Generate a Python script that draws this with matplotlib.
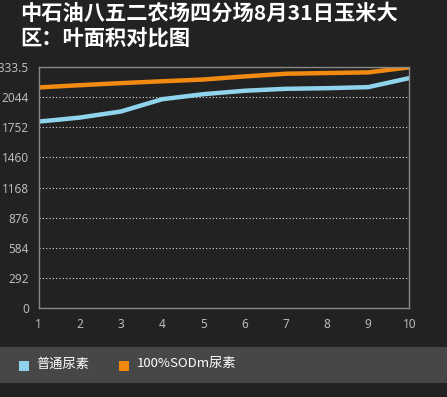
import matplotlib
matplotlib.use("Agg")
import matplotlib.pyplot as plt
from matplotlib.patches import Rectangle

plt.rcParams['font.family'] = ['Noto Sans CJK SC', 'DejaVu Sans']

# data
days = [1, 2, 3, 4, 5, 6, 7, 8, 9, 10]
normal_urea = [1807, 1846, 1905, 2024, 2073, 2106, 2125, 2131, 2141, 2229]
sodm_urea = [2138, 2160, 2180, 2198, 2215, 2245, 2271, 2278, 2284, 2333.5]
y_ticks = [0, 292, 584, 876, 1168, 1460, 1752, 2044, 2333.5]
y_labels = ['0', '292', '584', '876', '1168', '1460', '1752', '2044', '2333.5']
series_names = ['普通尿素', '100%SODm尿素']
colors = ['#8fd3ec', '#f28a12']
title = '中石油八五二农场四分场8月31日玉米大\n区：叶面积对比图'

W, H = 447, 397
bg = '#222222'
fig = plt.figure(figsize=(W / 100, H / 100), dpi=100, facecolor=bg)
ax = fig.add_axes([38.5 / W, 1 - 308 / H, (409.3 - 38.5) / W, (308 - 67.3) / H])
ax.set_facecolor(bg)

ax.plot(days, normal_urea, color=colors[0], lw=3.2, solid_joinstyle='round')
ax.plot(days, sodm_urea, color=colors[1], lw=3.2, solid_joinstyle='round')

ax.set_xlim(1, 10)
ax.set_ylim(0, 2333.5)
ax.set_xticks(days)
ax.set_xticklabels([str(d) for d in days])
ax.set_yticks(y_ticks)
ax.set_yticklabels(y_labels)
ax.tick_params(length=0, colors='#bbbbbb', labelsize=8.5)
ax.tick_params(axis='y', pad=7)
ax.tick_params(axis='x', pad=7)
for lab in ax.get_xticklabels() + ax.get_yticklabels():
    lab.set_family('Noto Sans')

for v in y_ticks[1:-1]:
    ax.axhline(v, color='#dddddd', lw=0.8, ls=(0, (1, 2)), zorder=1)

for s in ax.spines.values():
    s.set_color('#888888')
    s.set_linewidth(1)

fig.text(20 / W, 1 - 3 / H, title, color='white', fontsize=15.3, fontweight='bold',
         ha='left', va='top', linespacing=1.22)

# legend band
fig.patches.append(Rectangle((0, 1 - 383 / H), 1, 36 / H, transform=fig.transFigure,
                             facecolor='#474747', edgecolor='none', zorder=0))
sq_x = [19, 119]
txt_x = [36.5, 137]
for i in range(2):
    fig.patches.append(Rectangle((sq_x[i] / W, 1 - 370.7 / H), 10 / W, 10 / H,
                                 transform=fig.transFigure, facecolor=colors[i],
                                 edgecolor='none', zorder=1))
    fig.text(txt_x[i] / W, 1 - 364 / H, series_names[i], color='white', fontsize=9.5,
             ha='left', va='center')

fig.savefig('out.png', dpi=100, facecolor=bg)
